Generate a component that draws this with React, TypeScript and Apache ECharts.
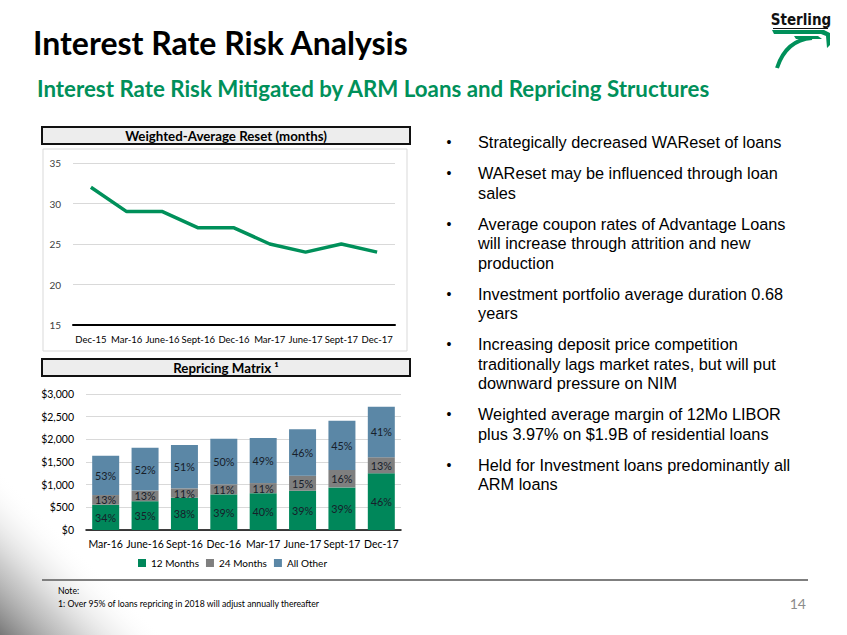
import React, { useEffect, useRef } from "react";
import * as echarts from "echarts";

const resetCategories = ["Dec-15", "Mar-16", "June-16", "Sept-16", "Dec-16", "Mar-17", "June-17", "Sept-17", "Dec-17"];
const resetMonths = [32, 29, 29, 27, 27, 25, 24, 25, 24];

const repricingCategories = ["Mar-16", "June-16", "Sept-16", "Dec-16", "Mar-17", "June-17", "Sept-17", "Dec-17"];
const twelveMonths = [558, 635, 713, 786, 812, 866, 940, 1251];
const twentyFourMonths = [213, 236, 206, 222, 223, 333, 386, 354];
const allOther = [869, 944, 956, 1007, 995, 1021, 1085, 1115];
const twelvePct = ["34%", "35%", "38%", "39%", "40%", "39%", "39%", "46%"];
const twentyFourPct = ["13%", "13%", "11%", "11%", "11%", "15%", "16%", "13%"];
const allOtherPct = ["53%", "52%", "51%", "50%", "49%", "46%", "45%", "41%"];

const bullets = [
  ["Strategically decreased WAReset of loans"],
  ["WAReset may be influenced through loan", "sales"],
  ["Average coupon rates of Advantage Loans", "will increase through attrition and new", "production"],
  ["Investment portfolio average duration 0.68", "years"],
  ["Increasing deposit price competition", "traditionally lags market rates, but will put", "downward pressure on NIM"],
  ["Weighted average margin of 12Mo LIBOR", "plus 3.97% on $1.9B of residential loans"],
  ["Held for Investment loans predominantly all", "ARM loans"],
];

const GREEN = "#00905A";
const BAR_GREEN = "#00875A";
const BAR_GRAY = "#7F7F7F";
const BAR_BLUE = "#5B87A6";
const CAL = "Lato, 'Open Sans', sans-serif";
const ARIAL = "'Liberation Sans', Arial, sans-serif";

export default function App() {
  const ref = useRef<HTMLDivElement>(null);
  useEffect(() => {
    if (!ref.current) return;
    const chart = echarts.init(ref.current, undefined, { renderer: "svg" });

    const graphics: any[] = [];
    // bottom-left shading
    graphics.push({
      type: "rect",
      shape: { x: 0, y: 470, width: 165, height: 165 },
      style: {
        fill: new echarts.graphic.LinearGradient(0, 1, 0.5, 0.5, [
          { offset: 0, color: "rgba(120,120,120,1)" },
          { offset: 0.45, color: "rgba(185,185,185,0.7)" },
          { offset: 1, color: "rgba(255,255,255,0)" },
        ]),
      },
      z: 0,
    });
    // title
    graphics.push({
      type: "text",
      x: 33, y: 42,
      style: { text: "Interest Rate Risk Analysis", font: `bold 32px ${CAL}`, fill: "#000", textVerticalAlign: "middle" },
    });
    graphics.push({
      type: "text",
      x: 37, y: 88,
      style: { text: "Interest Rate Risk Mitigated by ARM Loans and Repricing Structures", font: `bold 22.3px ${CAL}`, fill: GREEN, textVerticalAlign: "middle" },
    });
    // logo
    graphics.push({
      type: "text",
      x: 801, y: 20,
      style: { text: "Sterling", font: `bold 15px 'DejaVu Sans Condensed', ${CAL}`, fill: "#111", textAlign: "center", textVerticalAlign: "middle" },
    });
    graphics.push({ type: "line", shape: { x1: 773, y1: 28.5, x2: 828, y2: 28.5 }, style: { stroke: "#111", lineWidth: 1 } });
    graphics.push({
      type: "polygon",
      shape: { points: [[772, 30], [824, 30], [830, 33], [830, 45], [827, 48], [826, 36], [821, 34], [774, 34]] },
      style: { fill: GREEN },
    });
    graphics.push({
      type: "polygon",
      shape: { points: [[794, 36], [818, 36], [822, 39], [796, 39]] },
      style: { fill: GREEN },
    });
    graphics.push({
      type: "bezierCurve",
      shape: { x1: 812, y1: 38, x2: 777, y2: 68, cpx1: 786, cpy1: 40 },
      style: { stroke: GREEN, lineWidth: 4, fill: "none" },
    });

    // chart header boxes
    const header = (y: number, text: string) => {
      graphics.push({
        type: "rect",
        shape: { x: 42, y, width: 368, height: 17 },
        style: { fill: "#EDEDED", stroke: "#111", lineWidth: 2 },
      });
      graphics.push({
        type: "text",
        x: 226, y: y + 8.5,
        style: { text, font: `bold 13.3px ${CAL}`, fill: "#000", textAlign: "center", textVerticalAlign: "middle" },
      });
    };
    header(127, "Weighted-Average Reset (months)");
    header(359, "Repricing Matrix \u00b9");
    // line chart panel border
    graphics.push({
      type: "rect",
      shape: { x: 43, y: 149, width: 364, height: 202 },
      style: { fill: "none", stroke: "#D9D9D9", lineWidth: 1 },
      z: 0,
    });

    // bullets
    let y = 142;
    bullets.forEach((lines) => {
      graphics.push({
        type: "text", x: 449, y,
        style: { text: "\u2022", font: `14px ${ARIAL}`, fill: "#000", textAlign: "center", textVerticalAlign: "middle" },
      });
      lines.forEach((ln, i) => {
        graphics.push({
          type: "text", x: 478, y: y + i * 19.5,
          style: { text: ln, font: `16.3px ${ARIAL}`, fill: "#000", textVerticalAlign: "middle" },
        });
      });
      y += (lines.length - 1) * 19.5 + 31;
    });

    // footer
    graphics.push({ type: "line", shape: { x1: 42, y1: 580, x2: 808, y2: 580 }, style: { stroke: "#7F7F7F", lineWidth: 2 } });
    graphics.push({ type: "text", x: 58, y: 590, style: { text: "Note:", font: `8.7px ${CAL}`, fill: "#000", textVerticalAlign: "middle" } });
    graphics.push({ type: "text", x: 58, y: 603, style: { text: "1: Over 95% of loans repricing in 2018 will adjust annually thereafter", font: `8.7px ${CAL}`, fill: "#000", textVerticalAlign: "middle" } });
    graphics.push({ type: "text", x: 806, y: 603, style: { text: "14", font: `14px ${CAL}`, fill: "#8C8C8C", textAlign: "right", textVerticalAlign: "middle" } });

    const pctLabel = (arr: string[]) => ({
      show: true,
      position: "inside" as const,
      color: "#17202A",
      fontSize: 10.8,
      fontFamily: CAL,
      formatter: (p: any) => arr[p.dataIndex],
    });

    chart.setOption({
      animation: false,
      backgroundColor: "#fff",
      textStyle: { fontFamily: CAL },
      grid: [
        { left: 73, right: 452, top: 163, bottom: 310 },
        { left: 86, right: 446, top: 394, bottom: 105 },
      ],
      xAxis: [
        {
          type: "category", gridIndex: 0, data: resetCategories, boundaryGap: true,
          axisLine: { lineStyle: { color: "#000", width: 2 } },
          axisTick: { show: false },
          axisLabel: { color: "#000", fontSize: 9.5, margin: 9, interval: 0 },
        },
        {
          type: "category", gridIndex: 1, data: repricingCategories,
          axisLine: { lineStyle: { color: "#000", width: 1.5 } },
          axisTick: { show: false },
          axisLabel: { color: "#000", fontSize: 10.5, margin: 8, interval: 0 },
        },
      ],
      yAxis: [
        {
          type: "value", gridIndex: 0, min: 15, max: 35, interval: 5,
          axisLine: { show: false }, axisTick: { show: false },
          axisLabel: { color: "#404040", fontSize: 10, margin: 12 },
          splitLine: { lineStyle: { color: "#D9D9D9", width: 1 } },
        },
        {
          type: "value", gridIndex: 1, min: 0, max: 3000, interval: 500,
          axisLine: { show: false }, axisTick: { show: false },
          axisLabel: { color: "#000", fontSize: 10.5, margin: 12, formatter: (v: number) => "$" + v.toLocaleString("en-US") },
          splitLine: { lineStyle: { color: "#D9D9D9", width: 1 } },
        },
      ],
      legend: {
        left: 133, top: 553, itemWidth: 8, itemHeight: 8, itemGap: 7,
        icon: "rect",
        textStyle: { fontSize: 10, color: "#000", fontFamily: CAL },
        data: ["12 Months", "24 Months", "All Other"],
      },
      series: [
        {
          type: "line", name: "WAReset", xAxisIndex: 0, yAxisIndex: 0, data: resetMonths,
          symbol: "none", lineStyle: { color: GREEN, width: 3.5 }, itemStyle: { color: GREEN },
        },
        {
          type: "bar", name: "12 Months", xAxisIndex: 1, yAxisIndex: 1, stack: "r", data: twelveMonths,
          barWidth: 27, itemStyle: { color: BAR_GREEN }, label: pctLabel(twelvePct),
        },
        {
          type: "bar", name: "24 Months", xAxisIndex: 1, yAxisIndex: 1, stack: "r", data: twentyFourMonths,
          barWidth: 27, itemStyle: { color: BAR_GRAY }, label: pctLabel(twentyFourPct),
        },
        {
          type: "bar", name: "All Other", xAxisIndex: 1, yAxisIndex: 1, stack: "r", data: allOther,
          barWidth: 27, itemStyle: { color: BAR_BLUE }, label: pctLabel(allOtherPct),
        },
      ],
      graphic: graphics,
    });
    return () => chart.dispose();
  }, []);
  return <div ref={ref} style={{ position: "absolute", left: 0, top: 0, width: 847, height: 635 }} />;
}
